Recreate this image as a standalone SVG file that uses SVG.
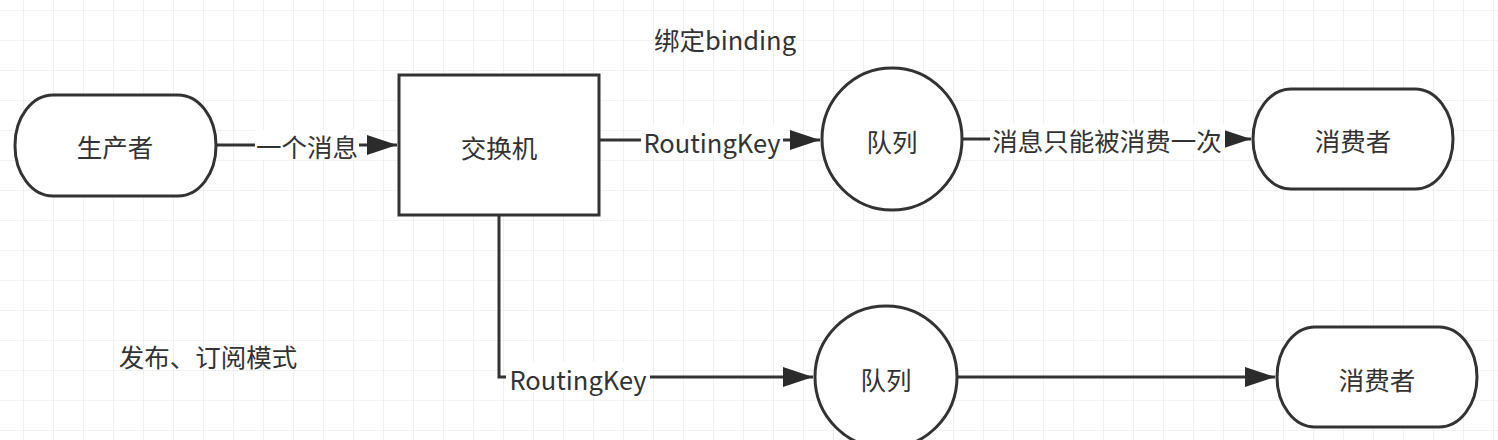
<svg xmlns="http://www.w3.org/2000/svg" width="1498" height="440" viewBox="0 0 1498 440">
<defs>
<pattern id="grid" x="23" y="10" width="30" height="30" patternUnits="userSpaceOnUse">
<path d="M0 0 V30 M0 0 H30" fill="none" stroke="#e6e6e6" stroke-width="1.2"/>
</pattern>
<marker id="arr" viewBox="0 0 30 20" refX="30" refY="10" markerWidth="30" markerHeight="20" markerUnits="userSpaceOnUse" orient="auto">
<path d="M0 0 L30 10 L0 20 Z" fill="#2b2b2b"/>
</marker>
</defs>
<style>
.shape{fill:#fff;stroke:#333;stroke-width:3}
.edge{fill:none;stroke:#333;stroke-width:3}
.t{font-family:"Microsoft YaHei","Noto Sans CJK SC","Noto Sans",sans-serif;font-size:25.5px;fill:#333;text-anchor:middle;dominant-baseline:central}
.lbg{fill:#fff}
</style>
<rect width="1498" height="440" fill="#fff"/>
<rect width="1498" height="440" fill="url(#grid)"/>
<g id="connectors">
<g id="e1">
<path class="edge" d="M216 145 H397" marker-end="url(#arr)"/>
<rect class="lbg" x="255" y="130" width="104" height="30"/>
<text class="t" x="307" y="145">一个消息</text>
</g>
<g id="e2">
<path class="edge" d="M599 140 H820" marker-end="url(#arr)"/>
<rect class="lbg" x="641" y="125" width="142" height="30"/>
<text class="t" x="712" y="141">RoutingKey</text>
</g>
<g id="e3">
<path class="edge" d="M962 139 H1251" marker-end="url(#arr)"/>
<rect class="lbg" x="990" y="124" width="235" height="30"/>
<text class="t" x="1107" y="139">消息只能被消费一次</text>
</g>
<g id="e4">
<path class="edge" d="M499 215 V377 H813" marker-end="url(#arr)"/>
<rect class="lbg" x="506" y="362" width="144" height="30"/>
<text class="t" x="578" y="378">RoutingKey</text>
</g>
<g id="e5">
<path class="edge" d="M957 377 H1275" marker-end="url(#arr)"/>
</g>
</g>
<g id="producer">
<rect class="shape" x="15" y="95" width="201" height="101" rx="38" ry="50"/>
<text class="t" x="115" y="145">生产者</text>
</g>
<g id="exchange">
<rect class="shape" x="399" y="75" width="200" height="140"/>
<text class="t" x="499" y="146">交换机</text>
</g>
<g id="queue1">
<ellipse class="shape" cx="892" cy="139" rx="70" ry="71"/>
<text class="t" x="892" y="140">队列</text>
</g>
<g id="consumer1">
<rect class="shape" x="1253" y="89" width="200" height="100" rx="38" ry="50"/>
<text class="t" x="1353" y="139">消费者</text>
</g>
<g id="queue2">
<ellipse class="shape" cx="886" cy="377" rx="71" ry="71"/>
<text class="t" x="886" y="378">队列</text>
</g>
<g id="consumer2">
<rect class="shape" x="1277" y="327" width="200" height="100" rx="38" ry="50"/>
<text class="t" x="1377" y="378">消费者</text>
</g>
<g id="notes">
<text class="t" x="725" y="38">绑定binding</text>
<text class="t" x="208" y="355">发布、订阅模式</text>
</g>
</svg>
